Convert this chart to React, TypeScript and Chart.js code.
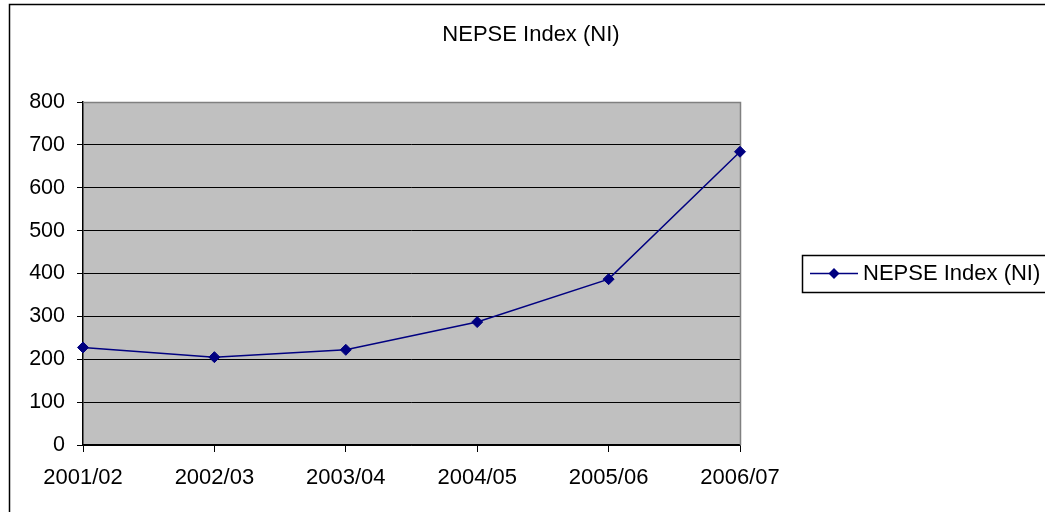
import React, { useEffect, useRef } from "react";
import { Chart, registerables } from "chart.js";

Chart.register(...registerables);

const categories = ["2001/02", "2002/03", "2003/04", "2004/05", "2005/06", "2006/07"];
const nepseValues = [227.5, 204.9, 222.0, 286.7, 386.8, 684.0];
const yTicks = [0, 100, 200, 300, 400, 500, 600, 700, 800];
const seriesLabel = "NEPSE Index (NI)";
const titleText = "NEPSE Index (NI)";

const FONT = "'Liberation Sans', Arial, sans-serif";
const NAVY = "#000080";

const decorPlugin = {
  id: "decor",
  beforeDraw(chart: any) {
    const { ctx, chartArea } = chart;
    ctx.save();
    ctx.fillStyle = "#ffffff";
    ctx.fillRect(0, 0, chart.width, chart.height);
    ctx.fillStyle = "#C0C0C0";
    ctx.fillRect(chartArea.left, chartArea.top, chartArea.right - chartArea.left, chartArea.bottom - chartArea.top);
    ctx.restore();
  },
  beforeDatasetsDraw(chart: any) {
    const { ctx, chartArea } = chart;
    ctx.save();
    ctx.strokeStyle = "#808080";
    ctx.lineWidth = 1.5;
    ctx.beginPath();
    ctx.moveTo(chartArea.left, Math.round(chartArea.top) + 0.5);
    ctx.lineTo(Math.round(chartArea.right) + 0.5, Math.round(chartArea.top) + 0.5);
    ctx.lineTo(Math.round(chartArea.right) + 0.5, chartArea.bottom);
    ctx.stroke();
    ctx.restore();
  },
  afterDraw(chart: any) {
    const { ctx } = chart;
    ctx.save();
    // outer frame
    ctx.strokeStyle = "#000000";
    ctx.lineWidth = 1.5;
    ctx.strokeRect(9.5, 4.5, 1100, 600);
    // title
    ctx.fillStyle = "#000000";
    ctx.font = `22px ${FONT}`;
    ctx.textAlign = "center";
    ctx.textBaseline = "middle";
    ctx.fillText(titleText, 531, 35);
    // legend
    ctx.strokeStyle = "#000000";
    ctx.lineWidth = 1.5;
    ctx.strokeRect(802.5, 255.5, 300, 37);
    ctx.strokeStyle = NAVY;
    ctx.lineWidth = 1.5;
    ctx.beginPath();
    ctx.moveTo(810, 273.5);
    ctx.lineTo(858, 273.5);
    ctx.stroke();
    ctx.fillStyle = NAVY;
    ctx.beginPath();
    ctx.moveTo(834, 268);
    ctx.lineTo(839.5, 273.5);
    ctx.lineTo(834, 279);
    ctx.lineTo(828.5, 273.5);
    ctx.closePath();
    ctx.fill();
    ctx.fillStyle = "#000000";
    ctx.textAlign = "left";
    ctx.font = `22px ${FONT}`;
    ctx.fillText(seriesLabel, 863, 274);
    ctx.restore();
  },
};

export default function App() {
  const ref = useRef<HTMLCanvasElement>(null);
  useEffect(() => {
    if (!ref.current) return;
    const chart = new Chart(ref.current, {
      type: "line",
      data: {
        labels: categories,
        datasets: [
          {
            label: seriesLabel,
            data: nepseValues,
            borderColor: NAVY,
            backgroundColor: NAVY,
            borderWidth: 1.5,
            pointStyle: "rectRot",
            pointRadius: 5.5,
            pointBorderWidth: 1,
            pointBackgroundColor: NAVY,
            pointBorderColor: NAVY,
            tension: 0,
            fill: false,
            clip: false as any,
          },
        ],
      },
      options: {
        responsive: false,
        animation: false,
        devicePixelRatio: 1,
        layout: { padding: { top: 102, right: 305, bottom: 0, left: 0 } },
        plugins: {
          legend: { display: false },
          title: { display: false },
          tooltip: { enabled: false },
        },
        scales: {
          x: {
            type: "category",
            offset: false,
            grid: {
              drawOnChartArea: false,
              drawTicks: true,
              tickLength: 7,
              color: "#000000",
              lineWidth: 1,
            },
            border: { display: true, color: "#000000", width: 1.5 },
            ticks: {
              color: "#000000",
              font: { family: FONT, size: 22 },
              padding: 13,
              maxRotation: 0,
              autoSkip: false,
            },
            afterFit(scale: any) {
              scale.height = 67;
            },
          },
          y: {
            min: 0,
            max: 800,
            afterBuildTicks(scale: any) {
              scale.ticks = yTicks.map((v) => ({ value: v }));
            },
            grid: {
              color: "#000000",
              lineWidth: 1,
              drawTicks: true,
              tickLength: 6,
            },
            border: { display: true, color: "#000000", width: 1.5 },
            ticks: {
              color: "#000000",
              font: { family: FONT, size: 21.5 },
              padding: 12,
            },
            afterFit(scale: any) {
              scale.width = 83;
            },
          },
        },
      },
      plugins: [decorPlugin],
    });
    return () => chart.destroy();
  }, []);
  return (
    <div style={{ position: "absolute", left: 0, top: 0, width: 1045, height: 512, overflow: "hidden" }}>
      <canvas ref={ref} width={1045} height={512} style={{ display: "block" }} />
    </div>
  );
}
